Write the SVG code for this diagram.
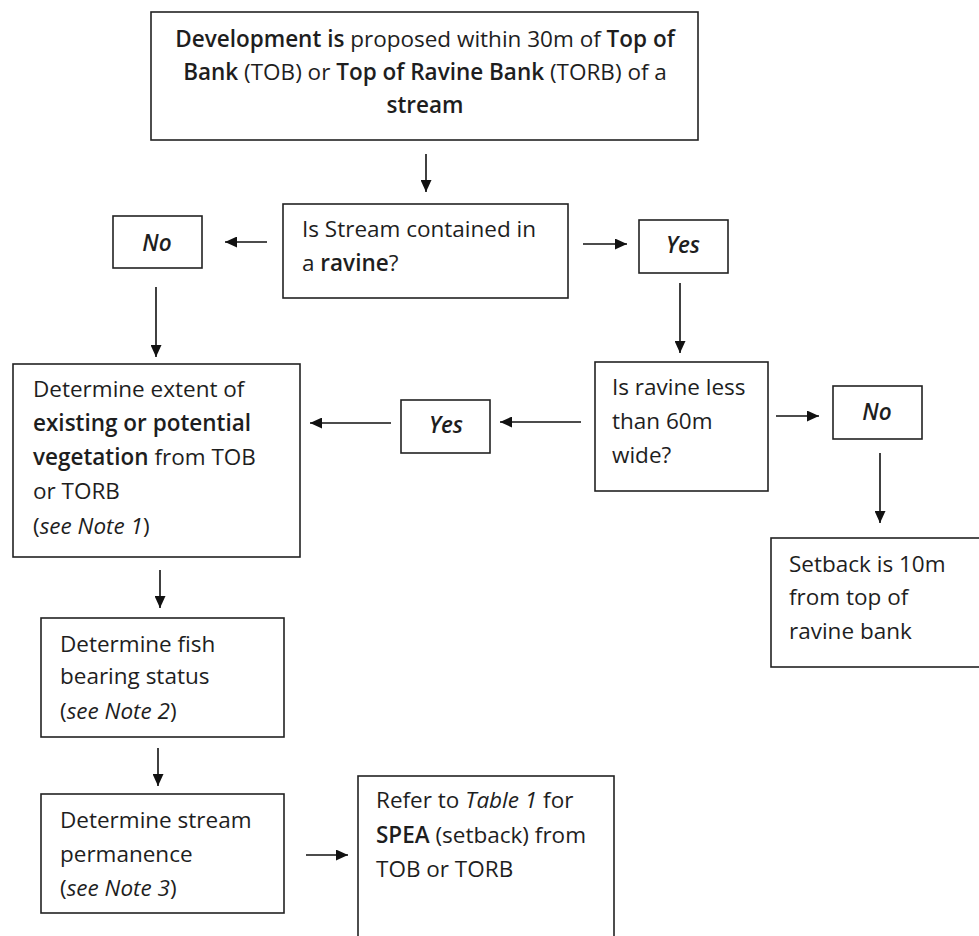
<svg xmlns="http://www.w3.org/2000/svg" width="979" height="936" viewBox="0 0 979 936">
<defs>
<style>
.box{fill:#fff;stroke:#222;stroke-width:1.6}
.t{font-family:"Open Sans","Noto Sans",sans-serif;font-size:22.5px;fill:#1e1e1e}
.m{text-anchor:middle}
.b{font-weight:600}
.i{font-style:italic}
.c{stroke:#111;stroke-width:1.6;fill:none}
</style>
<marker id="ah" markerWidth="12" markerHeight="11" refX="12" refY="5.5" orient="auto" markerUnits="userSpaceOnUse">
<path d="M0,0 L12,5.5 L0,11 Z" fill="#111"/>
</marker>
</defs>
<rect width="979" height="936" fill="#fff"/>

<g id="connectors">
<line class="c" x1="426" y1="154" x2="426" y2="192" marker-end="url(#ah)"/>
<line class="c" x1="267" y1="242" x2="225" y2="242" marker-end="url(#ah)"/>
<line class="c" x1="583" y1="244" x2="627" y2="244" marker-end="url(#ah)"/>
<line class="c" x1="156" y1="287" x2="156" y2="357" marker-end="url(#ah)"/>
<line class="c" x1="680" y1="283" x2="680" y2="353" marker-end="url(#ah)"/>
<line class="c" x1="581" y1="422" x2="500" y2="422" marker-end="url(#ah)"/>
<line class="c" x1="391" y1="423" x2="310" y2="423" marker-end="url(#ah)"/>
<line class="c" x1="776" y1="416" x2="819" y2="416" marker-end="url(#ah)"/>
<line class="c" x1="880" y1="453" x2="880" y2="523" marker-end="url(#ah)"/>
<line class="c" x1="160" y1="570" x2="160" y2="608" marker-end="url(#ah)"/>
<line class="c" x1="158" y1="748" x2="158" y2="786" marker-end="url(#ah)"/>
<line class="c" x1="306" y1="855" x2="348" y2="855" marker-end="url(#ah)"/>
</g>

<g id="start">
<rect class="box" x="151" y="12" width="547" height="128"/>
<text class="t m" x="425" y="47"><tspan class="b">Development is</tspan> proposed within 30m of <tspan class="b">Top of</tspan></text>
<text class="t m" x="425" y="80"><tspan class="b">Bank</tspan> (TOB) or <tspan class="b">Top of Ravine Bank</tspan> (TORB) of a</text>
<text class="t m b" x="425" y="113">stream</text>
</g>

<g id="q-ravine">
<rect class="box" x="283" y="204" width="285" height="94"/>
<text class="t" x="302" y="237">Is Stream contained in</text>
<text class="t" x="302" y="271">a <tspan class="b">ravine</tspan>?</text>
</g>

<g id="no-1">
<rect class="box" x="113" y="216" width="89" height="52"/>
<text class="t m b i" x="157" y="251">No</text>
</g>

<g id="yes-1">
<rect class="box" x="639" y="220" width="89" height="53"/>
<text class="t m b i" x="683" y="253">Yes</text>
</g>

<g id="vegetation">
<rect class="box" x="13" y="364" width="287" height="193"/>
<text class="t" x="33" y="397">Determine extent of</text>
<text class="t b" x="33" y="431">existing or potential</text>
<text class="t" x="33" y="465"><tspan class="b">vegetation</tspan> from TOB</text>
<text class="t" x="33" y="499">or TORB</text>
<text class="t" x="33" y="534">(<tspan class="i">see Note 1</tspan>)</text>
</g>

<g id="yes-2">
<rect class="box" x="401" y="400" width="89" height="53"/>
<text class="t m b i" x="446" y="433">Yes</text>
</g>

<g id="q-width">
<rect class="box" x="595" y="362" width="173" height="129"/>
<text class="t" x="612" y="395">Is ravine less</text>
<text class="t" x="612" y="429">than 60m</text>
<text class="t" x="612" y="463">wide?</text>
</g>

<g id="no-2">
<rect class="box" x="833" y="386" width="89" height="53"/>
<text class="t m b i" x="877" y="420">No</text>
</g>

<g id="setback">
<rect class="box" x="771" y="538" width="216" height="129"/>
<text class="t" x="789" y="572">Setback is 10m</text>
<text class="t" x="789" y="605">from top of</text>
<text class="t" x="789" y="639">ravine bank</text>
</g>

<g id="fish">
<rect class="box" x="41" y="618" width="243" height="119"/>
<text class="t" x="60" y="652">Determine fish</text>
<text class="t" x="60" y="684">bearing status</text>
<text class="t" x="60" y="719">(<tspan class="i">see Note 2</tspan>)</text>
</g>

<g id="permanence">
<rect class="box" x="41" y="794" width="243" height="119"/>
<text class="t" x="60" y="828">Determine stream</text>
<text class="t" x="60" y="862">permanence</text>
<text class="t" x="60" y="896">(<tspan class="i">see Note 3</tspan>)</text>
</g>

<g id="refer">
<rect class="box" x="358" y="776" width="256" height="170"/>
<text class="t" x="376" y="808">Refer to <tspan class="i">Table 1</tspan> for</text>
<text class="t" x="376" y="843"><tspan class="b">SPEA</tspan> (setback) from</text>
<text class="t" x="376" y="877">TOB or TORB</text>
</g>
</svg>
